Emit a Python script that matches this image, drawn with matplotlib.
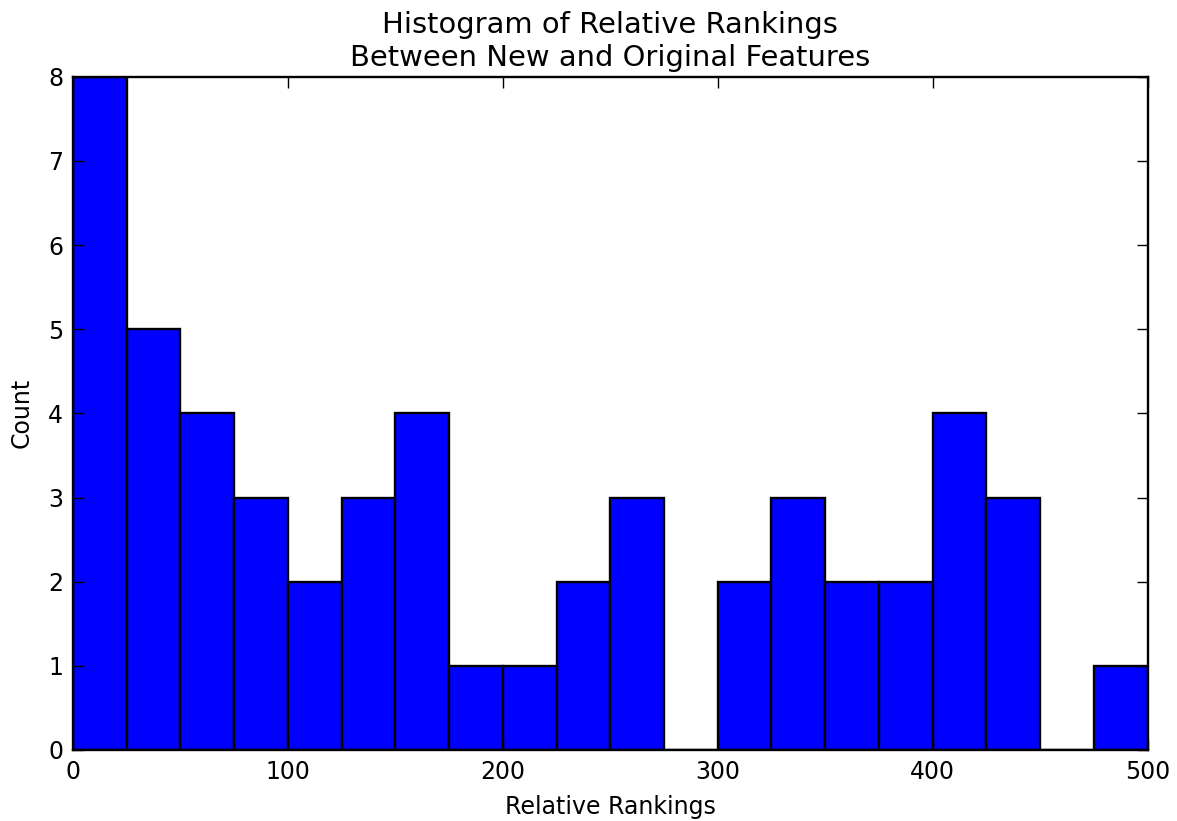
import numpy as np
import matplotlib
matplotlib.use("Agg")
import matplotlib.pyplot as plt

# bin edges and counts
bin_edges = np.arange(0, 525, 25)
counts = [8, 5, 4, 3, 2, 3, 4, 1, 1, 2, 3, 0, 2, 3, 2, 2, 4, 3, 0, 1]
x_ticks = [0, 100, 200, 300, 400, 500]
y_ticks = [0, 1, 2, 3, 4, 5, 6, 7, 8]

fig = plt.figure(figsize=(11.77, 8.21), dpi=100)
ax = fig.add_axes([0.062, 0.0865, 0.913, 0.820])

ax.bar(bin_edges[:-1], counts, width=25, align='edge', color='blue',
       edgecolor='black', linewidth=1.7)

ax.set_xlim(0, 500)
ax.set_ylim(0, 8)
ax.set_xticks(x_ticks)
ax.set_yticks(y_ticks)
ax.tick_params(direction='in', top=True, right=True, length=8, width=1,
               labelsize=17, pad=7)
for s in ax.spines.values():
    s.set_linewidth(1.7)

ax.set_title("Histogram of Relative Rankings\nBetween New and Original Features",
             fontsize=20.9, pad=8)
ax.set_xlabel("Relative Rankings", fontsize=17, labelpad=8)
ax.set_ylabel("Count", fontsize=17, labelpad=10)

fig.savefig("out.png", dpi=100)
